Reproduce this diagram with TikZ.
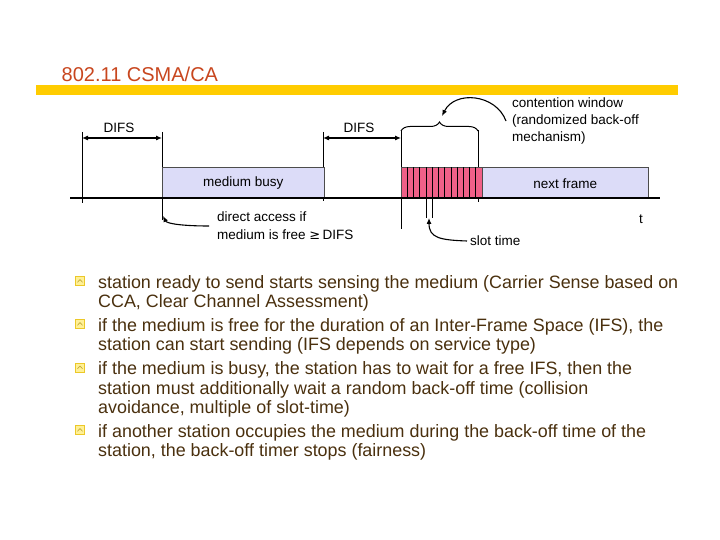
\documentclass[tikz,border=0pt]{standalone}
\usepackage{fontspec}
\setmainfont{Liberation Sans}
\usetikzlibrary{arrows.meta,decorations.pathreplacing,calc}
\definecolor{titlecol}{RGB}{200,70,30}
\definecolor{barcol}{RGB}{255,204,0}
\definecolor{lav}{RGB}{220,220,248}
\definecolor{slotpink}{RGB}{240,96,136}
\definecolor{bultxt}{RGB}{74,48,14}
\definecolor{bulbox}{RGB}{236,200,40}
\definecolor{bulfill}{RGB}{255,240,150}
\tikzset{
  vline/.style={line width=0.8pt},
  dimarrow/.style={line width=1.1pt,{Latex[length=6pt,width=5pt]}-{Latex[length=6pt,width=5pt]}},
  curvearrow/.style={line width=1.1pt,-{Latex[length=6pt,width=5pt]}},
  lbl/.style={inner sep=0pt,font=\fontsize{13.5}{16.5}\selectfont},
  framebox/.style={draw=black!70,line width=0.6pt,fill=lav,inner sep=0pt,minimum height=31pt,anchor=south west,font=\fontsize{13.5}{16.5}\selectfont},
  bul/.style={inner sep=0pt,anchor=base west,text=bultxt,font=\fontsize{17.9}{20}\selectfont},
  bulmark/.style={draw=bulbox,fill=bulfill,line width=0.7pt,minimum size=9pt,inner sep=0pt}
}
\begin{document}
\begin{tikzpicture}[x=1pt,y=-1pt]
\useasboundingbox (0,0) rectangle (720,540);
% title
\node[inner sep=0pt,anchor=base west,text=titlecol,font=\fontsize{20}{24}\selectfont] (title) at (61.5,82) {802.11 CSMA/CA};
\fill[barcol] (36,85) rectangle (678,95);
% key coordinates
\coordinate (a0) at (70,198);
\coordinate (a1) at (660,198);
% vertical lines
\draw[vline] (82,132) -- (82,203);
\draw[vline] (162,132) -- (162,220);
\draw[vline] (323,132) -- (323,201);
\draw[vline] (401,130) -- (401,229);
\draw[vline] (478,130) -- (478,202);
% boxes
\node[framebox,minimum width=162pt] (busy) at (162,199) {medium busy};
\node[framebox,minimum width=166pt] (next) at (482,199) {next frame};
\node[draw=black!70,line width=0.6pt,fill=slotpink,inner sep=0pt,minimum width=81pt,minimum height=31pt,anchor=south west] (slots) at (401,199) {};
\foreach \i in {1,...,12}{
  \draw[line width=0.6pt] ($(slots.south west)+(\i*6.23,0)$) -- ($(slots.north west)+(\i*6.23,0)$);
}
% timeline
\draw[line width=2.2pt] (a0) -- (a1);
% slot time lines
\draw[vline] (426,198) -- (426,218);
\draw[vline] (432.5,198) -- (432.5,218);
% DIFS arrows
\coordinate (d1l) at (82,138);
\coordinate (d1r) at (162,138);
\coordinate (d2l) at (323,138);
\coordinate (d2r) at (401,138);
\draw[dimarrow] (d1l) -- (d1r);
\draw[dimarrow] (d2l) -- (d2r);
\node[lbl] (difs1) at (119,128) {DIFS};
\node[lbl] (difs2) at (359,128) {DIFS};
% brace
\draw[line width=1pt,decorate,decoration={brace,amplitude=9pt}] (401,131) -- (478,131);
\coordinate (bracetip) at (442,116);
% contention window text
\node[lbl,anchor=base west] (cw1) at (512,108) {contention window};
\node[lbl,anchor=base west] (cw2) at (512,125) {(randomized back-off};
\node[lbl,anchor=base west] (cw3) at (512,142) {mechanism)};
\coordinate (cwtail) at (506,121);
\draw[curvearrow] (cwtail) .. controls (496,94) and (455,90) .. (bracetip);
% direct access
\node[lbl,anchor=base west] (da1) at (217,222) {direct access if};
\node[lbl,anchor=base west] (da2) at (217,240) {medium is free {\fontspec{DejaVu Sans}\fontsize{13}{15}\selectfont ≥}\,DIFS};
\coordinate (datail) at (209,226);
\coordinate (dahead) at (163,216);
\draw[curvearrow] (datail) .. controls (185,226) and (167,224) .. (dahead);
% slot time
\node[lbl,anchor=base west] (st) at (470,245) {slot time};
\coordinate (sttail) at (467,241);
\coordinate (sthead) at (429,218);
\draw[curvearrow] (sttail) .. controls (440,240) and (429,238) .. (sthead);
% t
\node[lbl,anchor=base west] (tt) at (639,223) {t};
% bullets
\foreach \y/\n in {288/m1,331/m2,374.5/m3,437/m4}{
  \node[bulmark] (\n) at (80,\y-7) {};
  \draw[bulbox!80!black!90,line width=0.6pt] ($(\n.center)+(-2.6,1.3)$) -- ($(\n.center)+(0,-1.4)$) -- ($(\n.center)+(2.6,1.3)$);
}
\node[bul] (b1a) at (98,288) {station ready to send starts sensing the medium (Carrier Sense based on};
\node[bul] (b1b) at (98,307.5) {CCA, Clear Channel Assessment)};
\node[bul] (b2a) at (98,331) {if the medium is free for the duration of an Inter-Frame Space (IFS), the};
\node[bul] (b2b) at (98,350.5) {station can start sending (IFS depends on service type)};
\node[bul] (b3a) at (98,374.5) {if the medium is busy, the station has to wait for a free IFS, then the};
\node[bul] (b3b) at (98,394) {station must additionally wait a random back-off time (collision};
\node[bul] (b3c) at (98,413.5) {avoidance, multiple of slot-time)};
\node[bul] (b4a) at (98,437) {if another station occupies the medium during the back-off time of the};
\node[bul] (b4b) at (98,456.5) {station, the back-off timer stops (fairness)};
\end{tikzpicture}
\end{document}
